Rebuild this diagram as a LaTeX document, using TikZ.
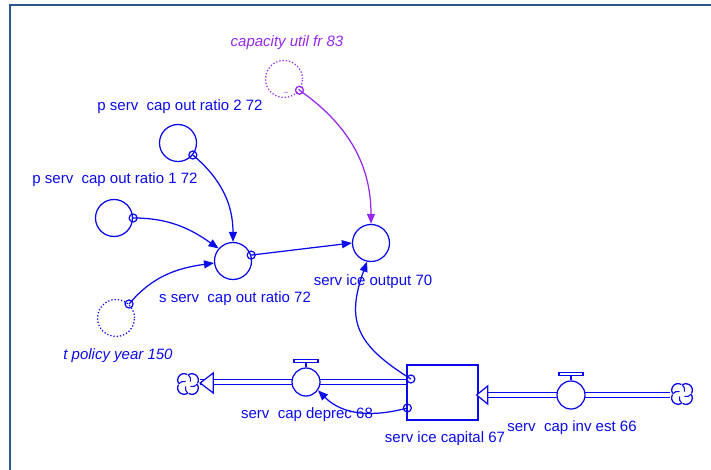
\documentclass[tikz,border=0pt]{standalone}
\usepackage{fontspec}
\setmainfont{Liberation Sans}
\usepackage{tikz}
\usetikzlibrary{arrows.meta,positioning}
\definecolor{simblue}{RGB}{10,10,235}
\definecolor{simviolet}{RGB}{150,40,235}
\definecolor{framecol}{RGB}{45,85,145}

\begin{document}
\begin{tikzpicture}[x=1pt,y=1pt,
  aux/.style={circle,draw=simblue,line width=1.25pt,minimum size=37pt,inner sep=0pt},
  shadowvar/.style={aux,dotted},
  lbl/.style={font=\fontsize{15}{18}\selectfont,text=simblue,inner sep=0pt},
  link/.style={draw=simblue,line width=1.25pt,-{Triangle[length=10pt,width=8pt]}},
  tail/.style={circle,draw=simblue,line width=1.25pt,minimum size=8pt,inner sep=0pt},
  pipe/.style={draw=simblue,double=white,double distance=3.6pt,line width=1.25pt},
  pipehead/.style={draw=simblue,fill=white,line width=1.25pt},
  valve/.style={circle,draw=simblue,fill=white,line width=1.25pt,minimum size=28pt,inner sep=0pt},
  stockbox/.style={rectangle,draw=simblue,line width=1.25pt,minimum width=71pt,minimum height=55pt},
  sink/.style={circle,minimum size=24pt,inner sep=0pt}]
\useasboundingbox (0,0) rectangle (711,-470);
% Frame
\draw[framecol,line width=2pt] (9,-5) -- (711,-5);
\draw[framecol,line width=2pt] (10,-5) -- (10,-470);

% Auxiliaries
\node[shadowvar,draw=simviolet] (capu) at (284,-79) {};
\node[lbl,text=simviolet,font=\fontsize{15}{18}\selectfont\itshape] (lcapu) at (287,-43) {capacity util fr 83};
\node[inner sep=0pt,text=simviolet,font=\fontsize{8}{8}\selectfont] (tilde) at (286,-94) {\textasciitilde};
\node[aux] (p2) at (178,-143) {};
\node[lbl] (lp2) at (180,-107) {p serv\ \ cap out ratio 2 72};
\node[aux] (p1) at (114,-218) {};
\node[lbl] (lp1) at (115,-180) {p serv\ \ cap out ratio 1 72};
\node[aux] (sserv) at (233,-261) {};
\node[lbl] (lsserv) at (235,-299) {s serv\ \ cap out ratio 72};
\node[shadowvar] (tpol) at (116,-318) {};
\node[lbl,font=\fontsize{15}{18}\selectfont\itshape] (ltpol) at (118,-356) {t policy year 150};
\node[aux] (sout) at (371,-243) {};
\node[lbl] (lsout) at (373,-282) {serv ice output 70};

% Stock, flows and clouds
\node[stockbox] (stock) at (442.5,-392.5) {};
\node[lbl] (lstock) at (445,-439) {serv ice capital 67};
\node[sink] (cloudL) at (188,-384) {};
\node[sink] (cloudR) at (682,-394) {};
\draw[pipe] (stock.west |- 0,-382) -- (cloudL.east |- 0,-382);
\draw[pipe] (cloudR.west |- 0,-395) -- (stock.east |- 0,-395);
\draw[pipehead] (cloudL.east |- 0,-383) -- ++(13,10) -- ++(0,-20) -- cycle;
\draw[pipehead] ([xshift=-2pt]stock.east |- 0,-395) -- ++(11,9) -- ++(0,-18) -- cycle;
\node[valve] (dep) at (306,-382) {};
\node[lbl] (ldep) at (307,-415) {serv\ \ cap deprec 68};
\node[valve] (inv) at (571,-395) {};
\node[lbl] (linv) at (572,-428) {serv\ \ cap inv est 66};
% Valve handles
\foreach \v in {dep,inv} {
  \draw[simblue,line width=1.25pt] (\v.north) -- ++(0,5);
  \draw[simblue,line width=1.25pt] ([shift={(-12,5)}]\v.north) rectangle ([shift={(12,8)}]\v.north);
}
% Clouds: four lobes and swirls
\foreach \c in {cloudL,cloudR} {
  \foreach \a in {45,135,225,315} {
    \draw[simblue,line width=1.3pt] ([shift={(\a:5.5)}]\c.center) ++(\a-75:6.5)
      arc[start angle=\a-75,end angle=\a+75,radius=6.5];
    \draw[simblue,line width=1.1pt] ([shift={(\a+45:9.5)}]\c.center)
      to[bend left=30] ([shift={(\a:3.5)}]\c.center);
  }
}

% Connectors
\draw[link,draw=simviolet] (capu.-36) node[tail,draw=simviolet] (o1) {}
  to[out=-35,in=90] (sout.north);
\draw[link] (p2.-39) node[tail] (o2) {} to[out=-40,in=90] (sserv.north);
\draw[link] (p1.0) node[tail] (o3) {} to[out=0,in=145] (sserv.139);
\draw[link] (tpol.47) node[tail] (o4) {} to[out=50,in=188] (sserv.186);
\draw[link] (sserv.18) node[tail] (o5) {} -- (sout.west);
\draw[link] ([shift={(4.5,13.5)}]stock.west) node[tail] (o6) {}
  to[out=148,in=-110,looseness=1.3] (sout.-102);
\draw[link] ([shift={(1,-15.5)}]stock.west) node[tail] (o7) {}
  to[out=195,in=-45] (dep.-35);
\end{tikzpicture}
\end{document}
